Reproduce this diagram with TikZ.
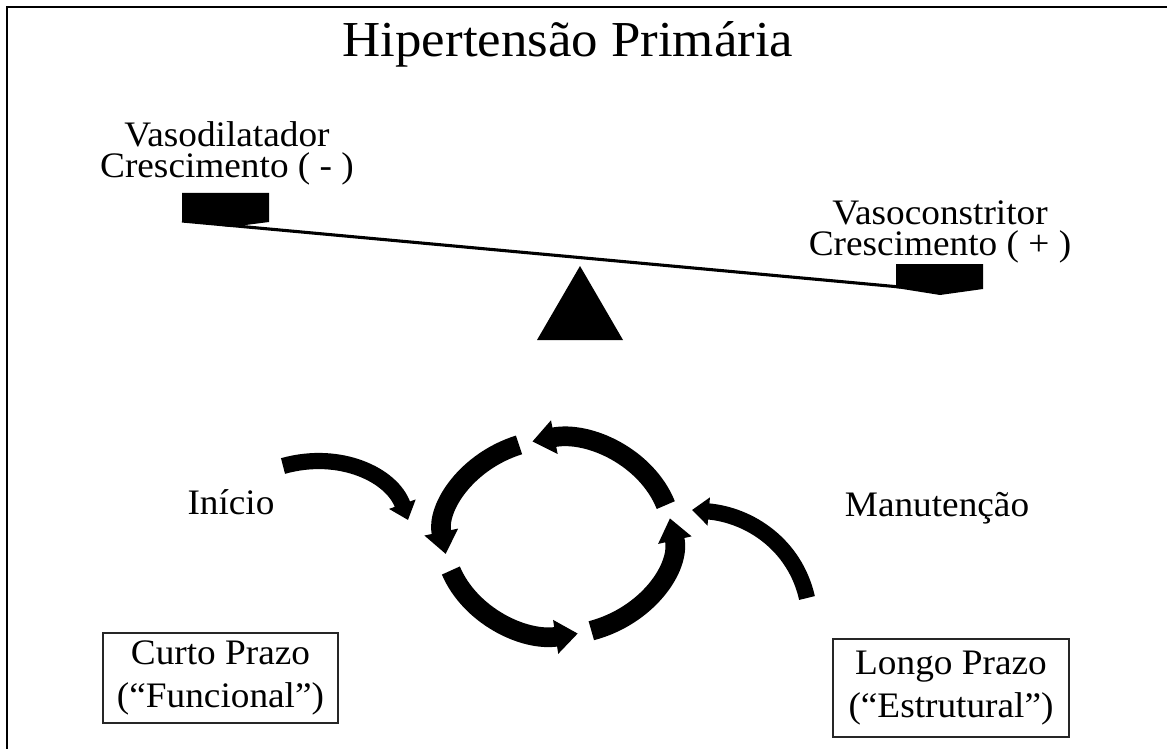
\documentclass[tikz,border=0pt]{standalone}
\usepackage{fontspec}
\setmainfont[FakeStretch=1.04]{Liberation Serif}
\newfontfamily\titlefont[FakeStretch=1.05]{Liberation Serif}
\usetikzlibrary{arrows.meta}

\begin{document}
\begin{tikzpicture}[x=0.025cm, y=-0.025cm,
    lbl/.style={align=center, inner sep=0pt, font=\fontsize{25.5}{22}\selectfont},
    boxlbl/.style={draw=black!85, line width=1pt, align=center, inner sep=0pt,
                   font=\fontsize{25.5}{30.5}\selectfont},
    cyclearrow/.style={line width=14pt, -{Triangle[width=0.82cm,length=0.56cm]}},
    sidearrow/.style={line width=11.5pt, -{Triangle[width=0.68cm,length=0.42cm]}}]
  \useasboundingbox (0,0) rectangle (1167,749);

  % frame
  \draw[line width=1.5pt] (7,749) -- (7,7) -- (1167,7);

  \node[anchor=base] (title) at (568,57) {\titlefont\fontsize{35.8}{40}\selectfont Hipertensão Primária};

  % balance
  \node[lbl] (vdil) at (227,153) {Vasodilatador\\Crescimento ( - )};
  \node[lbl] (vcon) at (940,232) {Vasoconstritor\\Crescimento ( + )};
  \coordinate (beamL) at (182,221);
  \coordinate (beamR) at (900,287);
  \draw[line width=2.2pt] (beamL) -- (beamR);
  \fill (182,193) -- (269,193) -- (269,222) -- (230,227) -- (182,220) -- cycle;
  \fill (896,264) -- (983,264) -- (983,289) -- (940,295) -- (896,288) -- cycle;
  \fill (580,266) -- (623,340) -- (537,340) -- cycle;

  % cycle
  \coordinate (c) at (558,537);
  \draw[cyclearrow] (c) ++(-19:114 and 98) arc[start angle=-19, end angle=-103, x radius=114, y radius=98];
  \draw[cyclearrow] (c) ++(-110:114 and 98) arc[start angle=-110, end angle=-190, x radius=114, y radius=98];
  \draw[cyclearrow] (c) ++(-200:114 and 98) arc[start angle=-200, end angle=-280, x radius=114, y radius=98];
  \draw[cyclearrow] (c) ++(-287:114 and 98) arc[start angle=-287, end angle=-371, x radius=114, y radius=98];

  \node[lbl] (ini) at (231,502) {Início};
  \node[lbl] (man) at (937,508) {Manutenção};
  \coordinate (iniA) at (283,466);
  \coordinate (iniB) at (408,520);
  \coordinate (manA) at (807,598);
  \coordinate (manB) at (692,510);
  \draw[sidearrow] (iniA) .. controls (340,450) and (392,475) .. (iniB);
  \draw[sidearrow] (manA) .. controls (795,545) and (750,515) .. (manB);

  \node[boxlbl, minimum width=5.875cm, minimum height=2.25cm] (curto) at (220.5,678) {Curto Prazo\\(“Funcional”)};
  \node[boxlbl, minimum width=5.9cm, minimum height=2.45cm] (longo) at (951,688) {Longo Prazo\\(“Estrutural”)};
\end{tikzpicture}
\end{document}
